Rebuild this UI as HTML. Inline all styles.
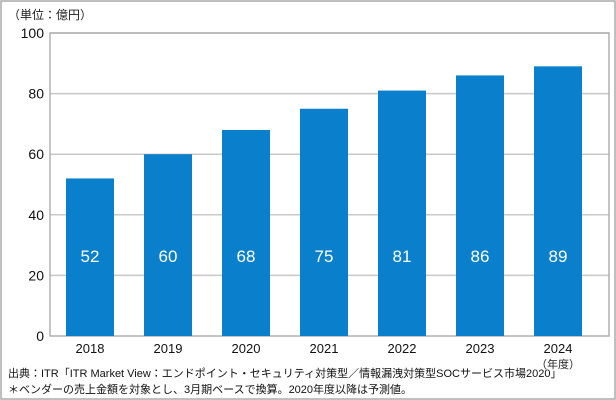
<!DOCTYPE html>
<html><head><meta charset="utf-8"><style>
body{margin:0;background:#fff;}
#c{position:relative;width:616px;height:400px;overflow:hidden;font-family:"Liberation Sans","Noto Sans CJK JP",sans-serif;}
</style></head><body>
<div id="c">
<svg id="s" width="616" height="400" xmlns="http://www.w3.org/2000/svg"></svg>
</div>
<script>
const categories=["2018","2019","2020","2021","2022","2023","2024"];
const values=[52,60,68,75,81,86,89];
const valueLabels=["52","60","68","75","81","86","89"];
const tickValues=[0,20,40,60,80,100];
const ns="http://www.w3.org/2000/svg";
const svg=document.getElementById('s');
const X0=50,X1=609,Y0=336,Y1=33,MAX=100;
const y=v=>Y0-(v/MAX)*(Y0-Y1);
const pad=40;
const step=(X1-X0-2*pad-11)/(categories.length-1);
const xc=i=>X0+pad+step*i;
function mk(tag,attrs,txt){const e=document.createElementNS(ns,tag);for(const k in attrs)e.setAttribute(k,attrs[k]);if(txt!==undefined)e.textContent=txt;svg.appendChild(e);return e;}
let e;
e=mk('rect',{x:1,y:1,width:614,height:398,fill:'none',stroke:'#aaa','stroke-width':1.5});


e=mk('text',{x:8,y:19,'font-size':12,fill:'#222'},'（単位：億円）');


tickValues.forEach(t=>{
 if(t>0){const g=mk('line',{x1:X0,x2:X1,y1:y(t),y2:y(t),stroke:'#c8c8c8','stroke-width':1.5});
 
 }
 const l=mk('text',{x:X0-6,y:y(t)+5,'text-anchor':'end','font-size':14,fill:'#111'},String(t));
 
 
});
e=mk('rect',{x:X0,y:Y1,width:X1-X0,height:Y0-Y1,fill:'none',stroke:'#b0b0b0','stroke-width':1.5});


const bw=48;
categories.forEach((c,i)=>{
 const b=mk('rect',{x:xc(i)-bw/2,y:y(values[i]),width:bw,height:Y0-y(values[i]),fill:'#0a7fcb'});
 
 
 const v=mk('text',{x:xc(i),y:262,'text-anchor':'middle','font-size':17,fill:'#fff'},valueLabels[i]);
 
 
 const t=mk('text',{x:xc(i),y:353,'text-anchor':'middle','font-size':13,fill:'#111'},c);
 
 
});
e=mk('text',{x:xc(6),y:368,'text-anchor':'middle','font-size':11,fill:'#222'},'（年度）');


e=mk('text',{x:8,y:377,'font-size':11,fill:'#111'},'出典：ITR「ITR Market View：エンドポイント・セキュリティ対策型／情報漏洩対策型SOCサービス市場2020」');


e=mk('text',{x:8,y:393,'font-size':11,fill:'#111'},'＊ベンダーの売上金額を対象とし、3月期ベースで換算。2020年度以降は予測値。');


</script>
</body></html>
